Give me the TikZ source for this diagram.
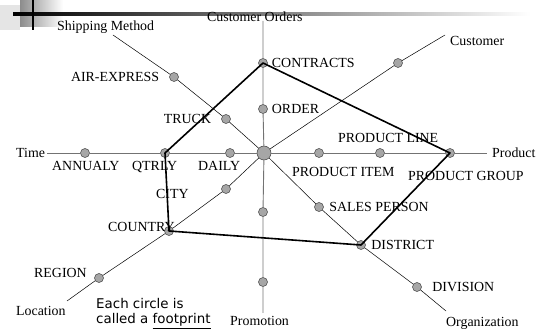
\documentclass[tikz,border=0pt]{standalone}
\usepackage{fontspec}
\setmainfont{Liberation Serif}
\newfontfamily\notefont{DejaVu Sans}
\usetikzlibrary{positioning}

\begin{document}
\begin{tikzpicture}[x=1pt, y=-1pt, font=\fontsize{13.9}{16}\selectfont]
    \tikzstyle{axis}=[draw=black!55, line width=0.9pt]
    \tikzstyle{diag}=[draw=black, line width=0.5pt]
    \tikzstyle{fp}=[circle, draw=black!75, fill=black!35, minimum size=9pt, inner sep=0pt, line width=0.5pt]
    \tikzstyle{hub}=[fp, minimum size=14pt]
    \tikzstyle{lbl}=[inner sep=0pt, text height=9.2pt, text depth=0pt, anchor=west]
    \tikzstyle{note}=[lbl, text height=9.8pt, font=\notefont\fontsize{13.4}{16}\selectfont]
    \tikzstyle{star}=[draw=black, line width=1.6pt, line join=round]

    \useasboundingbox (0,0) rectangle (539,331);

    % slide corner
    \fill[black!10] (0,5) rectangle (20,30);
    \shade[left color=black!45, right color=white] (20,0) rectangle (63,27);
    \shade[left color=black, right color=white] (13,13) rectangle (530,15.2);
    \fill[black] (32,0) rectangle (34.2,30);

    \node[hub] (hub) at (264,153) {};
    \foreach \n/\x/\y in {ct/263/63, or/263/109, pa/263/212, pb/263/282,
        an/85/153, qt/165/153, da/230/153, pi/319/153, pl/380/153, pg/450/153,
        ae/174/77, tr/226/119, cu/398/63, ci/226/189, cn/169/231, rg/99/278,
        sp/319/207, di/361/245, dv/417/287}
        \node[fp] (\n) at (\x,\y) {};

    \coordinate (e-co) at (263,21);
    \coordinate (e-pr) at (263,313);
    \coordinate (e-ti) at (47,153);
    \coordinate (e-pd) at (487,153);
    \coordinate (e-sh) at (113,35);
    \coordinate (e-cu) at (445,35);
    \coordinate (e-lo) at (67,301);
    \coordinate (e-og) at (446,311);

    \draw[axis] (e-co) -- (ct) -- (or) -- (hub) -- (pa) -- (pb) -- (e-pr);
    \draw[axis] (e-ti) -- (an) -- (qt) -- (da) -- (hub) -- (pi) -- (pl) -- (pg) -- (e-pd);
    \draw[diag] (e-sh) -- (ae) -- (tr) -- (hub);
    \draw[diag] (e-cu) -- (cu) -- (hub) -- (ci) -- (cn) -- (rg) -- (e-lo);
    \draw[diag] (hub) -- (sp) -- (di) -- (dv) -- (e-og);

    \draw[star] (ct.center) -- (pg.center) -- (di.center) -- (cn.center) -- (qt.center) -- cycle;

    % dimension names
    \node[lbl] (l-co) at (207,17) {Customer Orders};
    \node[lbl] (l-sh) at (57,26) {Shipping Method};
    \node[lbl] (l-cu) at (450,41) {Customer};
    \node[lbl] (l-ti) at (16,153) {Time};
    \node[lbl] (l-pd) at (492,153) {Product};
    \node[lbl] (l-lo) at (16,311) {Location};
    \node[lbl] (l-pr) at (230,321) {Promotion};
    \node[lbl] (l-og) at (446,322) {Organization};

    % levels
    \node[lbl, right=4pt of ct] (l-ct) {CONTRACTS};
    \node[lbl, right=4pt of or] (l-or) {ORDER};
    \node[lbl, left=10pt of ae] (l-ae) {AIR-EXPRESS};
    \node[lbl, left=10pt of tr] (l-tr) {TRUCK};
    \node[lbl] (l-an) at (52,166) {ANNUALY};
    \node[lbl] (l-qt) at (132,166) {QTRLY};
    \node[lbl] (l-da) at (198,166) {DAILY};
    \node[lbl] (l-pl) at (338,138) {PRODUCT LINE};
    \node[lbl] (l-pi) at (292,172) {PRODUCT ITEM};
    \node[lbl] (l-pg) at (408,176) {PRODUCT GROUP};
    \node[lbl] (l-ci) at (156,194) {CITY};
    \node[lbl] (l-cn) at (108,227) {COUNTRY};
    \node[lbl] (l-rg) at (34,273) {REGION};
    \node[lbl, right=5.5pt of sp] (l-sp) {SALES PERSON};
    \node[lbl, right=5.5pt of di] (l-di) {DISTRICT};
    \node[lbl, right=10.5pt of dv] (l-dv) {DIVISION};

    \node[note] (n-1) at (96,304) {Each circle is};
    \node[note] (n-2) at (96,319) {called a \underline{footprint}};
\end{tikzpicture}
\end{document}
